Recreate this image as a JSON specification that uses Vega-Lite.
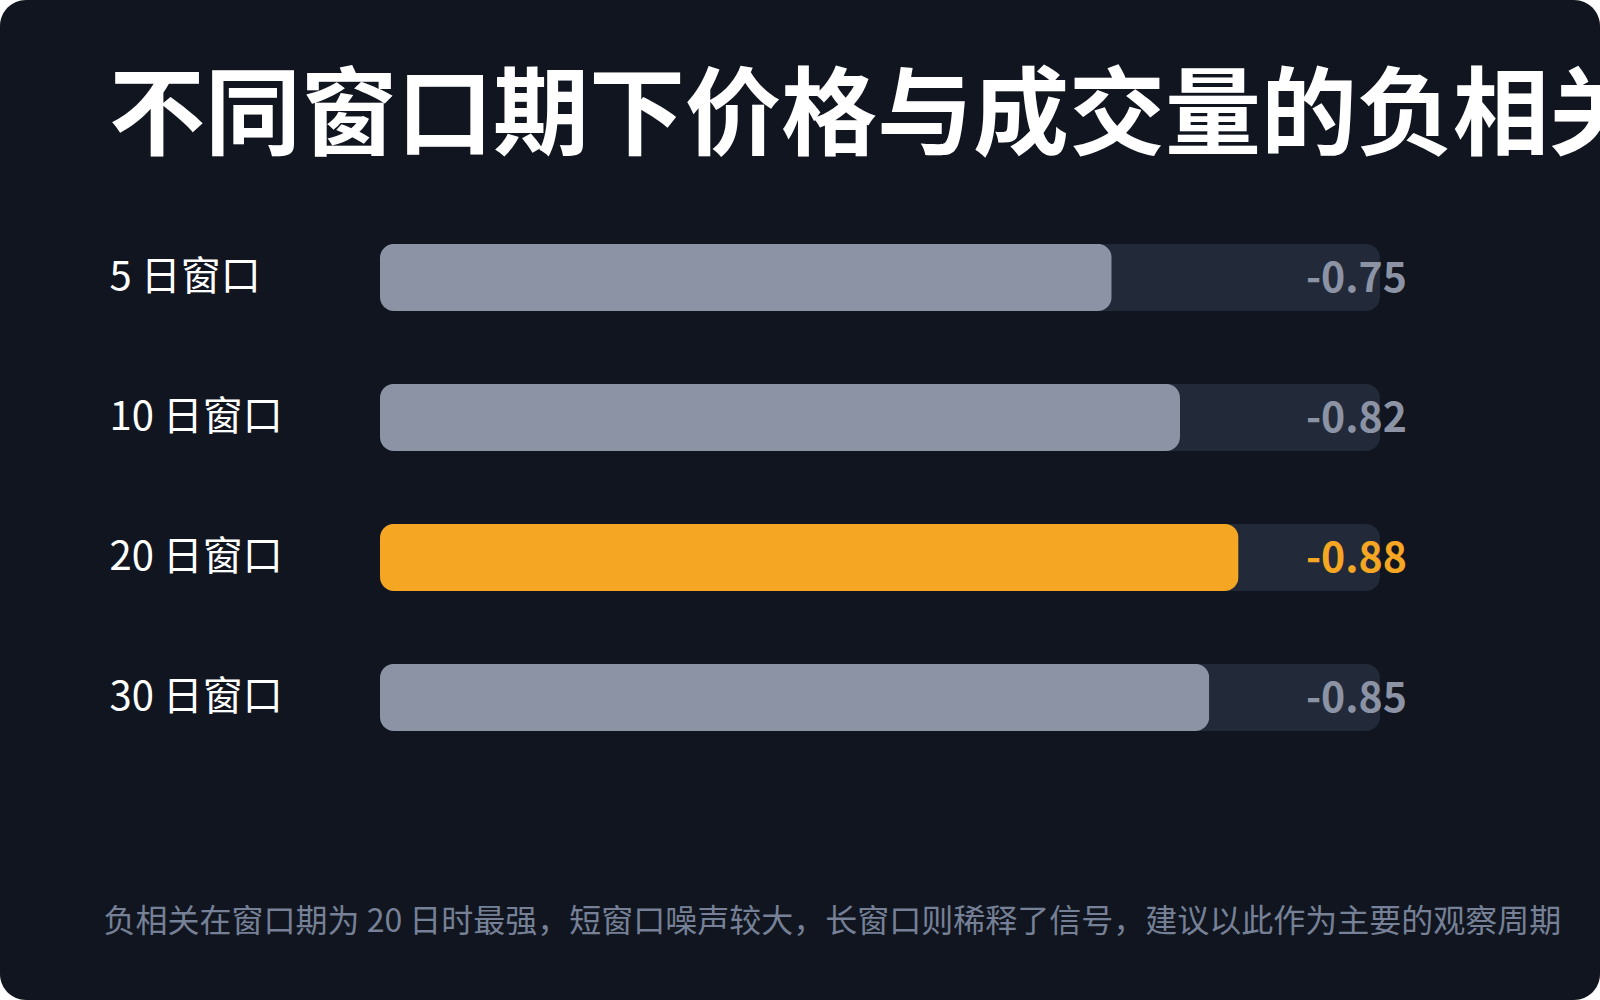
{
  "$schema": "https://vega.github.io/schema/vega-lite/v6.json",
  "width": 1600,
  "height": 1000,
  "padding": 0,
  "autosize": {"type": "none"},
  "background": "#ffffff",
  "title": {
    "text": "不同窗口期下价格与成交量的负相关强度",
    "anchor": "start",
    "frame": "group",
    "orient": "top",
    "offset": -243,
    "dx": 109,
    "baseline": "alphabetic",
    "fontSize": 96,
    "fontWeight": "bold",
    "color": "#ffffff",
    "font": "Noto Sans CJK SC",
    "limit": 0
  },
  "data": {
    "values": [
      {"window": "5 日窗口", "r": -0.75},
      {"window": "10 日窗口", "r": -0.82},
      {"window": "20 日窗口", "r": -0.88},
      {"window": "30 日窗口", "r": -0.85}
    ]
  },
  "encoding": {
    "y": {
      "field": "window",
      "type": "nominal",
      "sort": null,
      "title": null,
      "scale": {"range": [207.5, 767.5], "paddingInner": 0.52, "paddingOuter": 0.26}
    }
  },
  "layer": [
    {
      "mark": {"type": "bar", "cornerRadius": 14, "color": "#222a39"},
      "encoding": {
        "x": {
          "datum": -1.025,
          "type": "quantitative",
          "title": "负相关在窗口期为 20 日时最强，短窗口噪声较大，长窗口则稀释了信号，建议以此作为主要的观察周期",
          "scale": {"domain": [0, -1.025], "range": [380, 1380], "nice": false, "zero": false}
        }
      }
    },
    {
      "mark": {"type": "bar", "cornerRadius": 14},
      "encoding": {
        "x": {
          "field": "r",
          "type": "quantitative",
          "title": "负相关在窗口期为 20 日时最强，短窗口噪声较大，长窗口则稀释了信号，建议以此作为主要的观察周期"
        },
        "color": {
          "condition": {"test": "datum.window === '20 日窗口'", "value": "#f5a623"},
          "value": "#8b93a5"
        }
      }
    },
    {
      "mark": {
        "type": "text",
        "align": "right",
        "baseline": "middle",
        "dx": 27,
        "dy": 2,
        "fontSize": 41,
        "fontWeight": "bold",
        "font": "Noto Sans CJK SC"
      },
      "encoding": {
        "x": {
          "datum": -1.025,
          "type": "quantitative",
          "title": "负相关在窗口期为 20 日时最强，短窗口噪声较大，长窗口则稀释了信号，建议以此作为主要的观察周期"
        },
        "text": {"field": "r", "type": "nominal"},
        "color": {
          "condition": {"test": "datum.window === '20 日窗口'", "value": "#f5a623"},
          "value": "#8b93a5"
        }
      }
    }
  ],
  "config": {
    "view": {"fill": "#10151f", "cornerRadius": 26, "stroke": null},
    "axisX": {
      "labels": false,
      "ticks": false,
      "domain": false,
      "grid": false,
      "titleAnchor": "start",
      "titleAlign": "left",
      "titleX": 103,
      "titleY": -69,
      "titleBaseline": "alphabetic",
      "titleFontSize": 32,
      "titleColor": "#768096",
      "titleFont": "Noto Sans CJK SC",
      "titleFontWeight": "normal",
      "titleLimit": 0
    },
    "axisY": {
      "domain": false,
      "ticks": false,
      "tickSize": 0,
      "grid": false,
      "labelAlign": "left",
      "labelBaseline": "middle",
      "labelPadding": -109,
      "labelFontSize": 40,
      "labelColor": "#ffffff",
      "labelFont": "Noto Sans CJK SC",
      "labelLimit": 0
    }
  }
}
